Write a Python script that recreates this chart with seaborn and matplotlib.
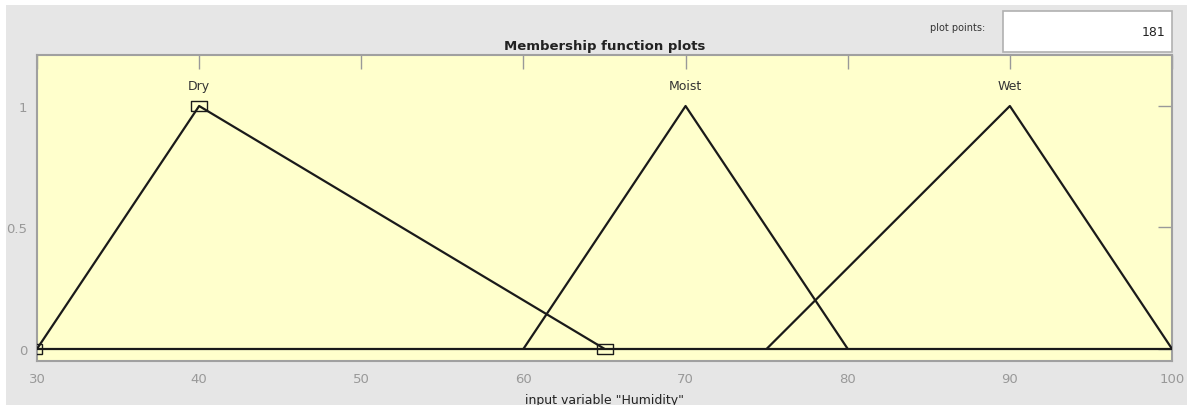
import seaborn as sns
import matplotlib.pyplot as plt
import pandas as pd
from matplotlib.patches import Rectangle

# membership functions (triangles) for input "Humidity"
mf_names = ['Dry', 'Moist', 'Wet']
mf_x = [[30, 40, 65], [60, 70, 80], [75, 90, 100]]
mf_y = [0, 1, 0]
x_range = [30, 100]
x_ticks = [30, 40, 50, 60, 70, 80, 90, 100]
y_ticks = [0, 0.5, 1]
plot_points = 181

rows = []
for name, xs in zip(mf_names, mf_x):
    for x, y in zip(xs, mf_y):
        rows.append({'mf': name, 'x': x, 'y': y})
df = pd.DataFrame(rows)

sns.set_style('white')
fig = plt.figure(figsize=(11.87, 4.06), dpi=100)
fig.patch.set_facecolor('white')
# grey panel behind the axes
fig.patches.append(Rectangle((6 / 1187, 0), 1, 1 - 6 / 406, transform=fig.transFigure,
                             facecolor='#e6e6e6', edgecolor='none', zorder=-10))

ax = fig.add_axes([37 / 1187, 1 - 362 / 406, (1172 - 37) / 1187, (362 - 56) / 406])
ax.set_facecolor('#ffffcc')

# baseline
ax.plot(x_range, [0, 0], color='#1a1a1a', lw=1.6, zorder=3)

sns.lineplot(data=df, x='x', y='y', units='mf', estimator=None, sort=False,
             color='#1a1a1a', linewidth=1.6, ax=ax, zorder=4)

# selected MF (Dry) vertex markers
rect_marker = [(-1.6, -1), (1.6, -1), (1.6, 1), (-1.6, 1), (-1.6, -1)]
ax.plot(mf_x[0][1:], mf_y[1:], ls='none', marker=rect_marker, markersize=11,
        markerfacecolor='none', markeredgecolor='#1a1a1a', markeredgewidth=1.0, zorder=5)
ax.plot([mf_x[0][0]], [mf_y[0]], ls='none', marker='s', markersize=7,
        markerfacecolor='none', markeredgecolor='#1a1a1a', markeredgewidth=1.0, zorder=5)

for name, xs in zip(mf_names, mf_x):
    ax.text(xs[1], 1.085, name, ha='center', va='center', fontsize=9, color='#333333')

ax.set_xlim(x_range)
ax.set_ylim(-0.05, 1.21)
ax.set_xticks(x_ticks)
ax.set_yticks(y_ticks)
ax.set_yticklabels(['0', '0.5', '1'])
ax.tick_params(direction='in', length=10, width=1.0, color='#999999',
               labelcolor='#999999', labelsize=9.5, top=True, right=True)
ax.tick_params(axis='x', pad=8)
ax.tick_params(axis='y', pad=7)
for s in ax.spines.values():
    s.set_color('#a0a0a0')
    s.set_linewidth(1.5)

ax.set_xlabel('input variable "Humidity"', fontsize=9, color='#222222', labelpad=6)
ax.set_ylabel('')
ax.set_title('Membership function plots', fontsize=9.5, fontweight='bold',
             color='#222222', pad=4)

# plot points box
fig.text(985 / 1187, 1 - 28 / 406, 'plot points:', ha='right', va='center',
         fontsize=7, color='#333333')
fig.patches.append(Rectangle((1003 / 1187, 1 - 53 / 406), 169 / 1187, 41 / 406,
                             transform=fig.transFigure, facecolor='white',
                             edgecolor='#b0b0b0', lw=1.2, zorder=2))
fig.text(1165 / 1187, 1 - 33 / 406, str(plot_points), ha='right', va='center',
         fontsize=9, color='#222222')

fig.savefig('out.png', dpi=100)
